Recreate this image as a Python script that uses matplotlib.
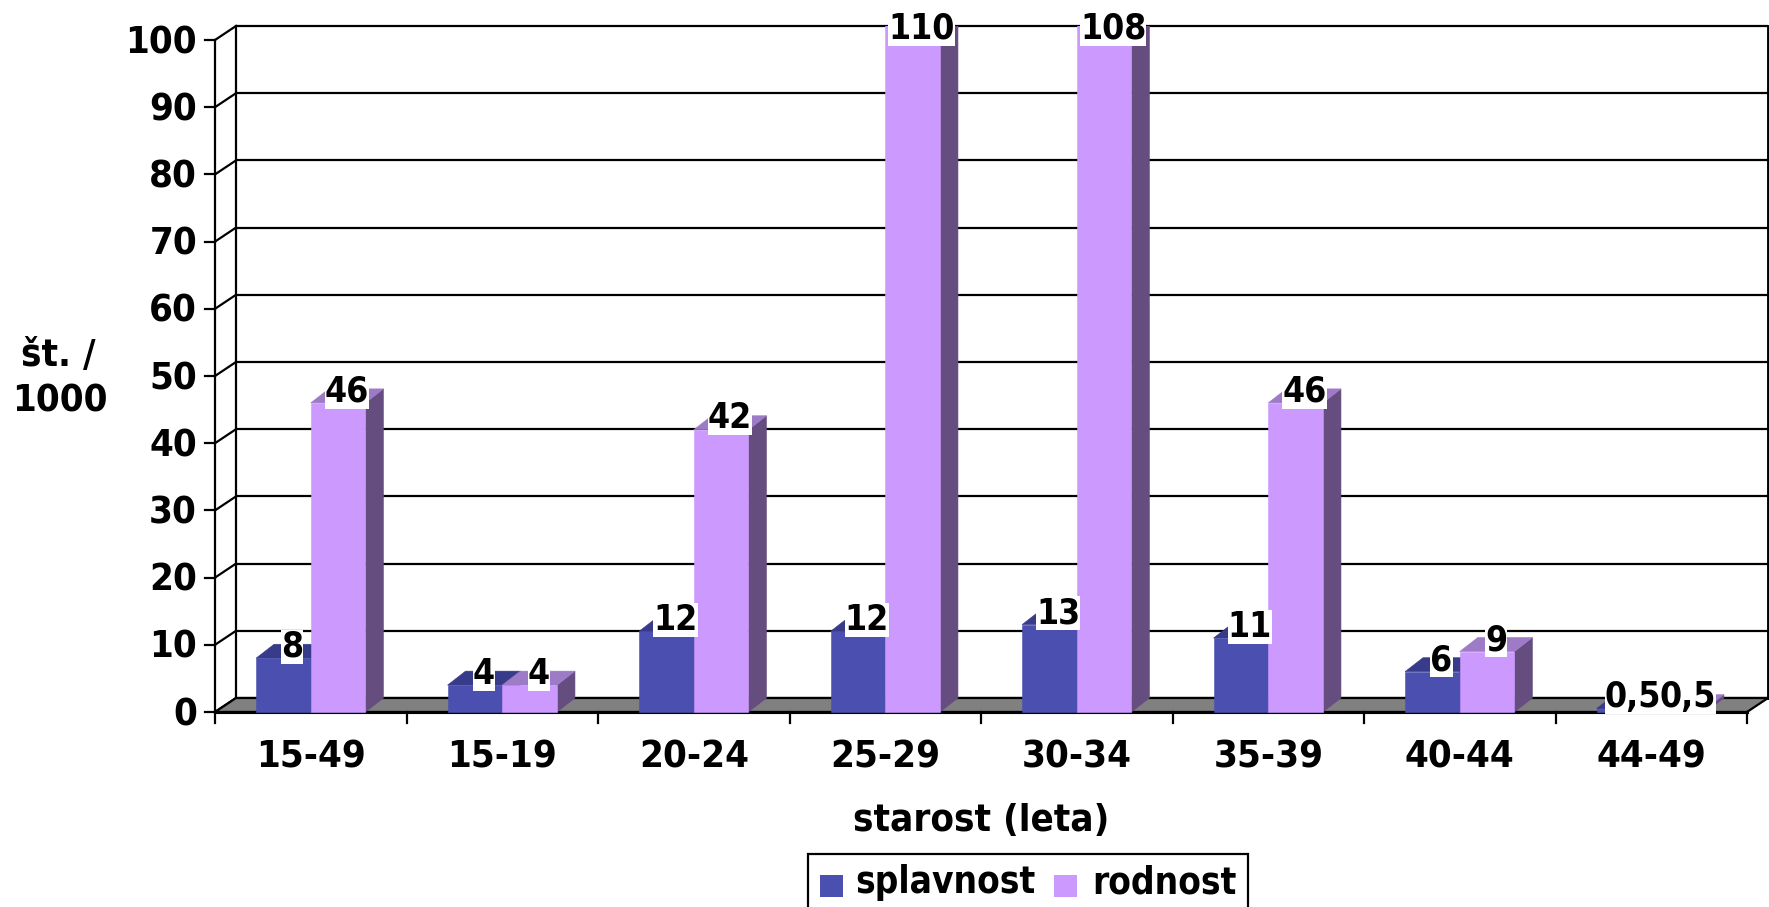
import matplotlib
matplotlib.use('Agg')
import matplotlib.pyplot as plt
from matplotlib.patches import Polygon, Rectangle

# ---------------- data ----------------
categories = ['15-49', '15-19', '20-24', '25-29', '30-34', '35-39', '40-44', '44-49']
splavnost = [8, 4, 12, 12, 13, 11, 6, 0.5]
rodnost = [46, 4, 42, 110, 108, 46, 9, 0.5]
splavnost_labels = ['8', '4', '12', '12', '13', '11', '6', '0,5']
rodnost_labels = ['46', '4', '42', '110', '108', '46', '9', '0,5']
series_names = ['splavnost', 'rodnost']
yticks = [0, 10, 20, 30, 40, 50, 60, 70, 80, 90, 100]
x_title = 'starost (leta)'
y_title = ['št. /', '1000']

# ---------------- style ----------------
plt.rcParams['font.family'] = ['DejaVu Sans']
FONT = dict(fontsize=27.5, fontweight='bold', fontstretch='condensed', color='black')
LFONT = dict(FONT, fontsize=25.5)
GFONT = dict(FONT, fontsize=26.5)
cols = {
    'splavnost': dict(front='#4B50B0', top='#373B8A', side='#2D3070'),
    'rodnost': dict(front='#CC99FF', top='#9D7BC7', side='#654D80'),
}
LW = 1.6

W, H = 1769, 907
fig = plt.figure(figsize=(W / 100, H / 100), dpi=100)
ax = fig.add_axes([0, 0, 1, 1])

# layout of the front frame in pixels
X0, CW = 215.0, 191.5      # left edge, px per category
Y0, PY = 712.0, 6.72       # zero line, px per unit
ax.set_xlim(-X0 / CW, (W - X0) / CW)
ax.set_ylim(-(H - Y0) / PY, Y0 / PY)
ax.axis('off')

def px(x):
    return (x - X0) / CW

def py(y):
    return (Y0 - y) / PY

N = len(categories)
YMAX = yticks[-1]
DX, DY = 21 / CW, 14 / PY        # wall depth
BDX, BDY = 18 / CW, 14 / PY      # bar depth
BW = 1 / 3.5                     # bar width (gap 150%)

# ---------------- walls ----------------
for t in yticks:
    ax.plot([DX, N + DX], [t + DY, t + DY], color='black', lw=LW, zorder=1, solid_capstyle='butt')
    ax.plot([0, DX], [t, t + DY], color='black', lw=LW, zorder=1)
    ax.plot([-10 / CW, 0], [t, t], color='black', lw=LW, zorder=1)
ax.plot([DX, DX], [DY, YMAX + DY], color='black', lw=LW, zorder=1)
ax.plot([N + DX, N + DX], [DY, YMAX + DY], color='black', lw=LW * 1.3, zorder=1)
ax.plot([0, 0], [0, YMAX], color='black', lw=LW, zorder=1)

floor = Polygon([(0, 0), (N, 0), (N + DX, DY), (DX, DY)], closed=True,
                facecolor='#808080', edgecolor='black', lw=LW, zorder=2)
ax.add_patch(floor)
ax.plot([0, N], [0, 0], color='black', lw=LW * 1.4, zorder=2.5)
for i in range(N + 1):
    ax.plot([i, i], [0, -11 / PY], color='black', lw=LW, zorder=2)

# ---------------- bars ----------------
clip = Rectangle((-5, -50), N + 10, YMAX + DY + 50, transform=ax.transData)

def draw_bar(x, h, c, z):
    pts_front = [(x, 0), (x + BW, 0), (x + BW, h), (x, h)]
    pts_side = [(x + BW, 0), (x + BW + BDX, BDY), (x + BW + BDX, h + BDY), (x + BW, h)]
    pts_top = [(x, h), (x + BW, h), (x + BW + BDX, h + BDY), (x + BDX, h + BDY)]
    for pts, fc in ((pts_side, c['side']), (pts_top, c['top']), (pts_front, c['front'])):
        p = Polygon(pts, closed=True, facecolor=fc, edgecolor=fc, lw=0.4, zorder=z)
        ax.add_patch(p)
        p.set_clip_path(clip)

for i in range(N):
    x_s = i + 0.5 - BW
    x_r = i + 0.5
    draw_bar(x_s, splavnost[i], cols['splavnost'], 3)
    draw_bar(x_r, rodnost[i], cols['rodnost'], 3.1)

# ---------------- data labels ----------------
bbox = dict(facecolor='white', edgecolor='none', boxstyle='square,pad=0.0')
for i in range(N):
    for x, v, lab in ((i + 0.5 - BW, splavnost[i], splavnost_labels[i]),
                      (i + 0.5, rodnost[i], rodnost_labels[i])):
        ax.text(x + BW / 2 + BDX / 2, min(v, YMAX) + 0.2, lab, ha='center', va='baseline',
                bbox=bbox, zorder=5, **LFONT)

# ---------------- tick labels and titles ----------------
for t in yticks:
    ax.text(px(197), t - 13 / PY, str(t), ha='right', va='baseline', **FONT)
for i, cat in enumerate(categories):
    ax.text(i + 0.5, py(768), cat, ha='center', va='baseline', **FONT)
ax.text(N / 2, py(831), x_title, ha='center', va='baseline', **FONT)
ax.text(px(58), py(366), y_title[0], ha='center', va='baseline', **FONT)
ax.text(px(60), py(412), y_title[1], ha='center', va='baseline', **FONT)

# ---------------- legend ----------------
ax.add_patch(Rectangle((px(808), py(930)), px(1248) - px(808), py(854) - py(930),
                       facecolor='white', edgecolor='black', lw=LW, zorder=4, clip_on=False))
leg_sq = [820, 1054]
leg_tx = [855, 1092]
for name, sx, tx in zip(series_names, leg_sq, leg_tx):
    ax.add_patch(Rectangle((px(sx), py(897)), 23 / CW, 22 / PY,
                           facecolor=cols[name]['front'], edgecolor='none', zorder=5))
    ax.text(px(tx), py(893), name, ha='left', va='baseline', zorder=6, **GFONT)

fig.savefig('out.png', dpi=100)
